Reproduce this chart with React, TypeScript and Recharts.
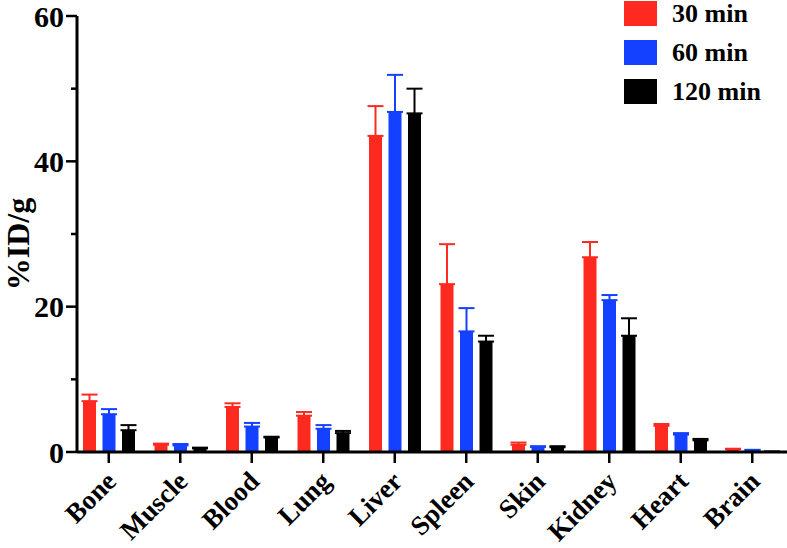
import { Bar, BarChart, ErrorBar, XAxis, YAxis } from "recharts";

const organs = ["Bone", "Muscle", "Blood", "Lung", "Liver", "Spleen", "Skin", "Kidney", "Heart", "Brain"];

// mean %ID/g and upper SD
const min30 = [7.0, 1.0, 6.2, 5.0, 43.5, 23.1, 1.0, 26.8, 3.6, 0.4];
const min30Sd = [0.9, 0.15, 0.5, 0.5, 4.1, 5.5, 0.3, 2.1, 0.25, 0.05];
const min60 = [5.2, 0.9, 3.5, 3.2, 46.8, 16.6, 0.7, 20.9, 2.4, 0.25];
const min60Sd = [0.7, 0.2, 0.5, 0.5, 5.1, 3.2, 0.1, 0.7, 0.2, 0.05];
const min120 = [3.0, 0.5, 2.0, 2.6, 46.6, 15.2, 0.65, 16.0, 1.6, 0.05];
const min120Sd = [0.7, 0.1, 0.1, 0.3, 3.4, 0.8, 0.15, 2.4, 0.2, 0];

const yTicks = [0, 10, 20, 30, 40, 50, 60];
const yMajor = [0, 20, 40, 60];

const series = [
  { key: "m30", label: "30 min", color: "#ff2a1f" },
  { key: "m60", label: "60 min", color: "#1440ff" },
  { key: "m120", label: "120 min", color: "#000000" },
];

const data = organs.map((name, i) => ({
  name,
  m30: min30[i],
  m30Err: [0, min30Sd[i]],
  m60: min60[i],
  m60Err: [0, min60Sd[i]],
  m120: min120[i],
  m120Err: [0, min120Sd[i]],
}));

const FONT = '"Liberation Serif", "Times New Roman", serif';
const AXIS_X = 77;
const AXIS_Y = 452;

const YTick = ({ y, payload }: any) => {
  const major = yMajor.includes(payload.value);
  return (
    <g>
      <line x1={AXIS_X - (major ? 11 : 6)} x2={AXIS_X} y1={y} y2={y} stroke="#000" strokeWidth={2.5} />
      {major && (
        <text
          x={AXIS_X - 13}
          y={y}
          dy="0.35em"
          textAnchor="end"
          fontFamily={FONT}
          fontWeight="bold"
          fontSize={30}
          fill="#000"
        >
          {payload.value}
        </text>
      )}
    </g>
  );
};

const XTick = ({ x, payload }: any) => (
  <g>
    <line x1={x} x2={x} y1={AXIS_Y} y2={AXIS_Y + 11} stroke="#000" strokeWidth={2.5} />
    <text
      x={x + 9}
      y={AXIS_Y + 31}
      textAnchor="end"
      transform={`rotate(-45 ${x + 9} ${AXIS_Y + 31})`}
      fontFamily={FONT}
      fontWeight="bold"
      fontSize={27}
      fill="#000"
    >
      {payload.value}
    </text>
  </g>
);

const YLabel = () => (
  <text
    x={29}
    y={244}
    transform="rotate(-90 29 244)"
    textAnchor="middle"
    fontFamily={FONT}
    fontWeight="bold"
    fontSize={32}
    fill="#000"
  >
    %ID/g
  </text>
);

export default function App() {
  return (
    <div style={{ position: "relative", width: 787, height: 548, background: "#fff" }}>
      <style>{"body{margin:0}"}</style>
      <BarChart
        width={787}
        height={548}
        data={data}
        margin={{ top: 16, right: 0, bottom: 0, left: 0 }}
        barGap={6.5}
        barSize={13}
      >
        <XAxis
          dataKey="name"
          height={96}
          interval={0}
          padding={{ left: -4, right: -1 }}
          axisLine={{ stroke: "#000", strokeWidth: 3 }}
          tickLine={false}
          tick={<XTick />}
        />
        <YAxis
          width={77}
          domain={[0, 60]}
          ticks={yTicks}
          interval={0}
          axisLine={{ stroke: "#000", strokeWidth: 3 }}
          tickLine={false}
          tick={<YTick />}
          label={{ content: () => <YLabel /> }}
        />
        {series.map((s) => (
          <Bar key={s.key} dataKey={s.key} fill={s.color} isAnimationActive={false}>
            <ErrorBar dataKey={`${s.key}Err`} width={8} strokeWidth={2} stroke={s.color} direction="y" />
          </Bar>
        ))}
      </BarChart>
      <div style={{ position: "absolute", left: 624, top: 1, fontFamily: FONT, fontWeight: "bold", fontSize: 26 }}>
        {series.map((s) => (
          <div key={s.key} style={{ display: "flex", alignItems: "center", height: 25, marginBottom: 14 }}>
            <span style={{ width: 33, height: 25, background: s.color, display: "inline-block" }} />
            <span style={{ marginLeft: 15, lineHeight: "25px" }}>{s.label}</span>
          </div>
        ))}
      </div>
    </div>
  );
}
